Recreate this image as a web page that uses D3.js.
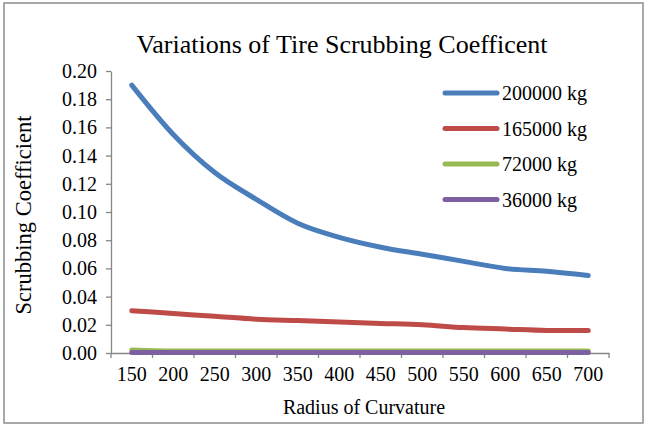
<!DOCTYPE html>
<html>
<head>
<meta charset="utf-8">
<script src="https://cdn.jsdelivr.net/npm/d3@7"></script>
<style>
  body { margin: 0; background: #fff; }
</style>
</head>
<body>
<div id="chart"></div>
<script>
// Radius of curvature categories
const radii = [150, 200, 250, 300, 350, 400, 450, 500, 550, 600, 650, 700];
const seriesNames = ["200000 kg", "165000 kg", "72000 kg", "36000 kg"];
const colors = ["#4A7EBB", "#BE4B48", "#98B954", "#7D60A0"];
const yTicks = [0, 0.02, 0.04, 0.06, 0.08, 0.10, 0.12, 0.14, 0.16, 0.18, 0.20];

// scrubbing coefficient per load
const load200000 = [0.190, 0.155, 0.128, 0.109, 0.092, 0.082, 0.075, 0.070, 0.065, 0.060, 0.058, 0.055];
const load165000 = [0.030, 0.028, 0.026, 0.024, 0.023, 0.022, 0.021, 0.020, 0.018, 0.017, 0.016, 0.016];
const load72000  = [0.0022, 0.0015, 0.0015, 0.0015, 0.0015, 0.0015, 0.0015, 0.0015, 0.0015, 0.0015, 0.0015, 0.0015];
const load36000  = [0.0003, 0.0003, 0.0003, 0.0003, 0.0003, 0.0003, 0.0003, 0.0003, 0.0003, 0.0003, 0.0003, 0.0003];

const series = [load200000, load165000, load72000, load36000];

const serif = '"Liberation Serif", "Times New Roman", serif';
const width = 645, height = 426;
const margin = {top: 71, right: 36, bottom: 73, left: 111};

const svg = d3.select("#chart").append("svg")
  .attr("width", width)
  .attr("height", height)
  .attr("font-family", serif);

// outer border
svg.append("rect")
  .attr("x", 4).attr("y", 3)
  .attr("width", 639).attr("height", 420)
  .attr("fill", "none")
  .attr("stroke", "#8c8c8c")
  .attr("stroke-width", 1.5);

const x = d3.scaleBand()
  .domain(radii)
  .range([margin.left, width - margin.right]);
const y = d3.scaleLinear()
  .domain([0, 0.20])
  .range([height - margin.bottom, margin.top]);

// y axis
const yAxis = svg.append("g")
  .attr("transform", `translate(${margin.left},0)`)
  .call(d3.axisLeft(y).tickValues(yTicks).tickFormat(d3.format(".2f")).tickSize(5).tickPadding(9).tickSizeOuter(0))
  .attr("font-family", serif);
yAxis.selectAll("text").attr("font-size", 20).attr("fill", "#000");

// x axis with ticks between categories
const xAxis = svg.append("g")
  .attr("transform", `translate(0,${height - margin.bottom})`)
  .call(d3.axisBottom(x).tickSize(0).tickPadding(14).tickSizeOuter(0))
  .attr("font-family", serif);
xAxis.selectAll("text").attr("font-size", 20).attr("fill", "#000");
xAxis.selectAll(".sep")
  .data(radii.map(r => x(r)).concat([x.range()[1]]))
  .enter().append("line")
  .attr("class", "sep")
  .attr("x1", d => d).attr("x2", d => d)
  .attr("y1", 0).attr("y2", 5);

svg.selectAll(".domain, .tick line, .sep")
  .attr("stroke", "#868686")
  .attr("stroke-width", 1.3);

// lines, last series on top
const line = d3.line()
  .x((d, i) => x(radii[i]) + x.bandwidth() / 2)
  .y(d => y(d))
  .curve(d3.curveMonotoneX);

series.forEach((vals, i) => {
  svg.append("path")
    .datum(vals)
    .attr("fill", "none")
    .attr("stroke", colors[i])
    .attr("stroke-width", 5)
    .attr("stroke-linecap", "round")
    .attr("stroke-linejoin", "round")
    .attr("d", line);
});

// title
svg.append("text")
  .attr("x", 342)
  .attr("y", 53)
  .attr("text-anchor", "middle")
  .attr("font-size", 26)
  .text("Variations of Tire Scrubbing Coefficent");

// axis titles
svg.append("text")
  .attr("x", 364)
  .attr("y", 414)
  .attr("text-anchor", "middle")
  .attr("font-size", 20)
  .text("Radius of Curvature");

svg.append("text")
  .attr("transform", "translate(31,215) rotate(-90)")
  .attr("text-anchor", "middle")
  .attr("font-size", 22.5)
  .text("Scrubbing Coefficient");

// legend
const legend = svg.append("g");
seriesNames.forEach((name, i) => {
  const ly = 93 + i * 35.5;
  legend.append("line")
    .attr("x1", 445).attr("x2", 497)
    .attr("y1", ly).attr("y2", ly)
    .attr("stroke", colors[i])
    .attr("stroke-width", 5)
    .attr("stroke-linecap", "round");
  legend.append("text")
    .attr("x", 502)
    .attr("y", ly + 7)
    .attr("font-size", 20)
    .text(name);
});
</script>
</body>
</html>
